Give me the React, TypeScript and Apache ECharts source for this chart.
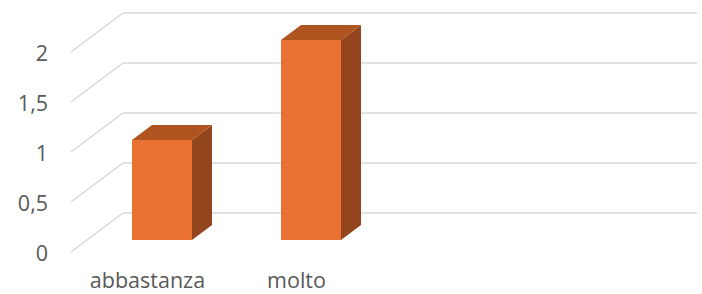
import React, { useEffect, useRef } from "react";
import * as echarts from "echarts";

const categories = ["abbastanza", "molto"];
const values = [1, 2];
const yMin = 0;
const yMax = 2;
const yInterval = 0.5;
const yTicks = [0, 0.5, 1, 1.5, 2];

const FRONT = "#E97132";
const TOP = "#B0541F";
const SIDE = "#93461D";
const GRID_COLOR = "#D9D9D9";
const LABEL_COLOR = "#595959";
const FONT = "'Open Sans', sans-serif";

export default function App() {
  const ref = useRef<HTMLDivElement>(null);
  useEffect(() => {
    if (!ref.current) return;
    const chart = echarts.init(ref.current, undefined, { renderer: "svg" });
    const depthX = 52;
    const depthY = 39;
    const option: any = {
      animation: false,
      backgroundColor: "#ffffff",
      grid: [
        { left: 123, right: 5, top: 13, height: 200 },
        { left: 73, width: 298, top: 52, height: 200 },
      ],
      xAxis: [
        { gridIndex: 0, type: "value", min: 0, max: 1, show: false },
        {
          gridIndex: 1,
          type: "category",
          data: categories,
          axisLine: { show: false },
          axisTick: { show: false },
          splitLine: { show: false },
          axisLabel: {
            interval: 0,
            hideOverlap: false,
            color: LABEL_COLOR,
            fontFamily: FONT,
            fontSize: 21.5,
            lineHeight: 20,
            margin: 17,
          },
        },
      ],
      yAxis: [
        {
          gridIndex: 0,
          type: "value",
          min: yMin,
          max: yMax,
          interval: yInterval,
          axisLine: { show: false },
          axisTick: { show: false },
          axisLabel: { show: false },
          splitLine: { lineStyle: { color: GRID_COLOR, width: 1.5 } },
        },
        {
          gridIndex: 1,
          type: "value",
          min: yMin,
          max: yMax,
          interval: yInterval,
          axisLine: { show: false },
          axisTick: { show: false },
          splitLine: { show: false },
          axisLabel: {
            color: LABEL_COLOR,
            fontFamily: FONT,
            fontSize: 21.5,
            margin: 25,
            formatter: (v: number) => String(v).replace(".", ","),
          },
        },
      ],
      series: [
        {
          type: "custom",
          xAxisIndex: 1,
          yAxisIndex: 1,
          clip: false,
          silent: true,
          data: yTicks.map((t) => [0, t]),
          renderItem: (params: any, api: any) => {
            const p = api.coord([0, api.value(1)]);
            const x0 = params.coordSys.x - 2;
            return {
              type: "line",
              shape: { x1: x0, y1: p[1], x2: x0 + depthX, y2: p[1] - depthY },
              style: { stroke: GRID_COLOR, lineWidth: 1.5 },
            };
          },
        },
        {
          type: "custom",
          xAxisIndex: 1,
          yAxisIndex: 1,
          clip: false,
          silent: true,
          data: values.map((v, i) => [i, v]),
          renderItem: (params: any, api: any) => {
            const i = api.value(0);
            const v = api.value(1);
            const base = api.coord([i, 0]);
            const top = api.coord([i, v]);
            const xL = base[0] - 15.5;
            const xR = xL + 60;
            const yB = base[1] - 12;
            const yT = top[1] - 12;
            const dx = 20;
            const dy = 15;
            return {
              type: "group",
              children: [
                {
                  type: "polygon",
                  shape: {
                    points: [
                      [xR, yT],
                      [xR + dx, yT - dy],
                      [xR + dx, yB - dy],
                      [xR, yB],
                    ],
                  },
                  style: { fill: SIDE },
                },
                {
                  type: "polygon",
                  shape: {
                    points: [
                      [xL, yT],
                      [xR, yT],
                      [xR + dx, yT - dy],
                      [xL + dx, yT - dy],
                    ],
                  },
                  style: { fill: TOP },
                },
                {
                  type: "rect",
                  shape: { x: xL, y: yT, width: xR - xL, height: yB - yT },
                  style: { fill: FRONT },
                },
              ],
            };
          },
        },
      ],
    };
    chart.setOption(option);
    return () => chart.dispose();
  }, []);
  return <div ref={ref} style={{ width: 702, height: 294, position: "absolute", left: 0, top: 0 }} />;
}
